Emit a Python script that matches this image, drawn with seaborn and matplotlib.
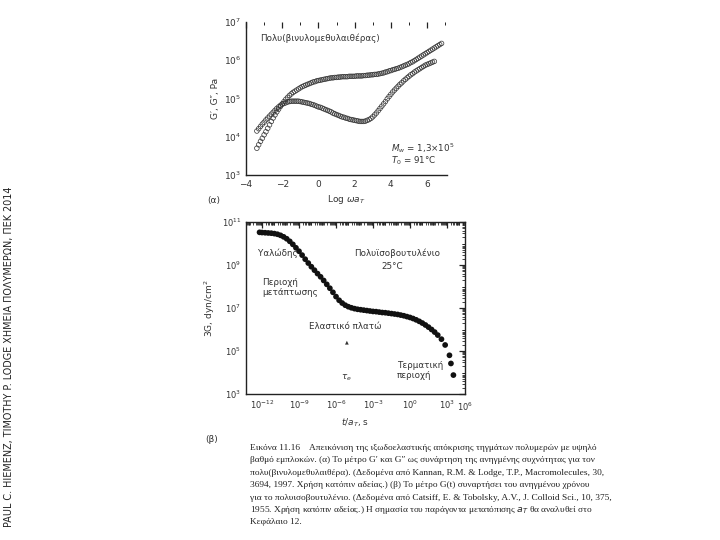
import numpy as np
import pandas as pd
import matplotlib
matplotlib.use("Agg")
import matplotlib.pyplot as plt
import matplotlib.ticker as mticker
import seaborn as sns

# ---------------- data ----------------
# (a) poly(vinyl methyl ether): log(omega a_T) and log10 of G' (Pa)
logw = [-3.4, -3.3, -3.2, -3.1, -3.0, -2.9, -2.8, -2.7, -2.6, -2.5, -2.4, -2.3,
        -2.2, -2.1, -2.0, -1.9, -1.8, -1.7, -1.6, -1.5, -1.4, -1.3, -1.2, -1.1,
        -1.0, -0.9, -0.8, -0.7, -0.6, -0.5, -0.4, -0.3, -0.2, -0.1, 0.0, 0.1,
        0.2, 0.3, 0.4, 0.5, 0.6, 0.7, 0.8, 0.9, 1.0, 1.1, 1.2, 1.3, 1.4, 1.5,
        1.6, 1.7, 1.8, 1.9, 2.0, 2.1, 2.2, 2.3, 2.4, 2.5, 2.6, 2.7, 2.8, 2.9,
        3.0, 3.1, 3.2, 3.3, 3.4, 3.5, 3.6, 3.7, 3.8, 3.9, 4.0, 4.1, 4.2, 4.3,
        4.4, 4.5, 4.6, 4.7, 4.8, 4.9, 5.0, 5.1, 5.2, 5.3, 5.4, 5.5, 5.6, 5.7,
        5.8, 5.9, 6.0, 6.1, 6.2, 6.3, 6.4, 6.5, 6.6, 6.7, 6.8]
logGp = [3.70, 3.79, 3.88, 3.96, 4.05, 4.13, 4.22, 4.31, 4.40, 4.49, 4.57, 4.65,
         4.72, 4.79, 4.86, 4.92, 4.98, 5.03, 5.08, 5.12, 5.16, 5.19, 5.22, 5.25,
         5.28, 5.31, 5.33, 5.35, 5.37, 5.39, 5.41, 5.43, 5.44, 5.46, 5.47, 5.48,
         5.49, 5.50, 5.51, 5.52, 5.53, 5.54, 5.54, 5.55, 5.55, 5.56, 5.56, 5.57, 5.57, 5.57,
         5.57, 5.58, 5.58, 5.58, 5.58, 5.59, 5.59, 5.59, 5.59, 5.60, 5.60, 5.61, 5.61, 5.62,
         5.62, 5.63, 5.63, 5.64, 5.65, 5.66, 5.67, 5.69, 5.70, 5.72, 5.73, 5.75, 5.76, 5.78,
         5.79, 5.81, 5.83, 5.85, 5.87, 5.89, 5.91, 5.94, 5.96, 5.99, 6.02, 6.05, 6.08, 6.11,
         6.14, 6.17, 6.20, 6.23, 6.26, 6.29, 6.32, 6.35, 6.38, 6.41, 6.44]
# log(omega a_T) and log10 of G'' (Pa)
logw2 = [-3.4, -3.3, -3.2, -3.1, -3.0, -2.9, -2.8, -2.7, -2.6, -2.5, -2.4, -2.3,
         -2.2, -2.1, -2.0, -1.9, -1.8, -1.7, -1.6, -1.5, -1.4, -1.3, -1.2, -1.1,
         -1.0, -0.9, -0.8, -0.7, -0.6, -0.5, -0.4, -0.3, -0.2, -0.1, 0.0, 0.1,
         0.2, 0.3, 0.4, 0.5, 0.6, 0.7, 0.8, 0.9, 1.0, 1.1, 1.2, 1.3, 1.4, 1.5,
         1.6, 1.7, 1.8, 1.9, 2.0, 2.1, 2.2, 2.3, 2.4, 2.5, 2.6, 2.7, 2.8, 2.9,
         3.0, 3.1, 3.2, 3.3, 3.4, 3.5, 3.6, 3.7, 3.8, 3.9, 4.0, 4.1, 4.2, 4.3,
         4.4, 4.5, 4.6, 4.7, 4.8, 4.9, 5.0, 5.1, 5.2, 5.3, 5.4, 5.5, 5.6, 5.7,
         5.8, 5.9, 6.0, 6.1, 6.2, 6.3, 6.4]
logGpp = [4.15, 4.21, 4.27, 4.33, 4.38, 4.44, 4.49, 4.54, 4.59, 4.64, 4.69, 4.74,
          4.78, 4.82, 4.85, 4.87, 4.89, 4.91, 4.92, 4.93, 4.93, 4.93, 4.93, 4.93,
          4.92, 4.91, 4.90, 4.89, 4.88, 4.87, 4.85, 4.84, 4.82, 4.80, 4.78, 4.77,
          4.75, 4.73, 4.71, 4.69, 4.67, 4.65, 4.62, 4.60, 4.58, 4.56, 4.54, 4.52, 4.51, 4.49,
          4.48, 4.46, 4.45, 4.44, 4.43, 4.42, 4.41, 4.40, 4.40, 4.40, 4.41, 4.43, 4.45, 4.48,
          4.52, 4.57, 4.62, 4.68, 4.74, 4.80, 4.86, 4.92, 4.99, 5.05, 5.11, 5.17, 5.22, 5.27,
          5.32, 5.37, 5.41, 5.46, 5.50, 5.54, 5.58, 5.62, 5.65, 5.69, 5.72, 5.75, 5.78, 5.81,
          5.84, 5.87, 5.89, 5.91, 5.93, 5.95, 5.97]

# (b) polyisobutylene: log10(t/a_T, s) and log10(3G, dyn/cm^2)
logt = [-12.2, -12.0, -11.75, -11.5, -11.25, -11.0, -10.75, -10.5, -10.25, -10.0,
        -9.75, -9.5, -9.25, -9.0, -8.75, -8.5, -8.25, -8.0, -7.75, -7.5, -7.25,
        -7.0, -6.75, -6.5, -6.25, -6.0, -5.75, -5.5, -5.25, -5.0, -4.75, -4.5,
        -4.25, -4.0, -3.75, -3.5, -3.25, -3.0, -2.75, -2.5, -2.25, -2.0, -1.75,
        -1.5, -1.25, -1.0, -0.75, -0.5, -0.25, 0.0, 0.25, 0.5, 0.75, 1.0, 1.25,
        1.5, 1.75, 2.0, 2.25, 2.55, 2.85, 3.2, 3.32, 3.52]
log3G = [10.52, 10.51, 10.50, 10.49, 10.48, 10.46, 10.43, 10.38, 10.31, 10.22,
         10.10, 9.96, 9.80, 9.64, 9.46, 9.27, 9.09, 8.92, 8.76, 8.60, 8.45,
         8.28, 8.10, 7.92, 7.73, 7.53, 7.36, 7.23, 7.13, 7.06, 7.01, 6.97,
         6.94, 6.92, 6.90, 6.88, 6.86, 6.84, 6.83, 6.81, 6.79, 6.78, 6.76,
         6.74, 6.72, 6.70, 6.67, 6.64, 6.60, 6.56, 6.51, 6.45, 6.38, 6.30, 6.21,
         6.11, 6.00, 5.88, 5.74, 5.55, 5.28, 4.80, 4.42, 3.88]

top_xticks = [-4, -2, 0, 2, 4, 6]
bot_xticks_exp = [-12, -9, -6, -3, 0, 3]
bot_yticks_exp = [3, 5, 7, 9, 11]

caption = [
    "Εικόνα 11.16    Απεικόνιση της ιξωδοελαστικής απόκρισης τηγμάτων πολυμερών με υψηλό",
    "βαθμό εμπλοκών. (α) Το μέτρο G′ και G″ ως συνάρτηση της ανηγμένης συχνότητας για τον",
    "πολυ(βινυλομεθυλαιθέρα). (Δεδομένα από Kannan, R.M. & Lodge, T.P., Macromolecules, 30,",
    "3694, 1997. Χρήση κατόπιν αδείας.) (β) Το μέτρο G(t) συναρτήσει του ανηγμένου χρόνου",
    "για το πολυισοβουτυλένιο. (Δεδομένα από Catsiff, E. & Tobolsky, A.V., J. Colloid Sci., 10, 375,",
    "1955. Χρήση κατόπιν αδείας.) Η σημασία του παράγοντα μετατόπισης $a_T$ θα αναλυθεί στο",
    "Κεφάλαιο 12.",
]

# ---------------- style ----------------
sns.set_style("white")
plt.rcParams['font.family'] = ['DejaVu Sans']
plt.rcParams['mathtext.fontset'] = 'dejavusans'

W, H = 720, 540
fig = plt.figure(figsize=(7.2, 5.4), dpi=100)
fig.patch.set_facecolor("white")

def fx(px):
    return px / W

def fy(py):
    return 1 - py / H

tc = "#333333"

# ---------------- panel (a) ----------------
ax1 = fig.add_axes([fx(246), fy(175), fx(201), 153 / H])
dfa1 = pd.DataFrame({"x": logw, "y": 10 ** np.array(logGp)})
dfa2 = pd.DataFrame({"x": logw2, "y": 10 ** np.array(logGpp)})
for d in (dfa1, dfa2):
    sns.scatterplot(data=d, x="x", y="y", ax=ax1, marker="o", s=11,
                    facecolors="none", edgecolor="#333333", linewidth=0.5)
ax1.set_yscale("log")
ax1.set_xlim(-4, 7.1)
ax1.set_ylim(1e3, 1e7)
ax1.set_xticks(top_xticks)
ax1.xaxis.set_minor_locator(mticker.MultipleLocator(1))
ax1.yaxis.set_major_locator(mticker.LogLocator(base=10, numticks=10))
ax1.yaxis.set_minor_locator(mticker.LogLocator(base=10, subs=np.arange(2, 10), numticks=20))
ax1.yaxis.set_minor_formatter(mticker.NullFormatter())
for s in ("top", "right"):
    ax1.spines[s].set_visible(False)
for s in ("left", "bottom"):
    ax1.spines[s].set_linewidth(1.0)
    ax1.spines[s].set_color("#222222")
ax1.tick_params(axis="both", which="both", direction="in", colors="#222222",
                labelcolor=tc, labelsize=6.5)
ax1.tick_params(axis="x", which="both", top=True)
ax1.tick_params(which="major", length=4, width=0.9)
ax1.tick_params(which="minor", length=2.5, width=0.7)
ax1.set_xlabel(r"Log $\omega a_T$", fontsize=6.5, color=tc, labelpad=3)
ax1.set_ylabel("G′, G″, Pa", fontsize=6.5, color=tc, labelpad=3)
ax1.text(0.37, 0.895, "Πολυ(βινυλομεθυλαιθέρας)", transform=ax1.transAxes,
         ha="center", va="center", fontsize=6.3, color=tc)
ax1.text(0.72, 0.176, r"$M_w$ = 1,3×10$^5$", transform=ax1.transAxes,
         ha="left", va="center", fontsize=6.3, color=tc)
ax1.text(0.72, 0.092, r"$T_0$ = 91°C", transform=ax1.transAxes,
         ha="left", va="center", fontsize=6.3, color=tc)
fig.text(fx(207), fy(200), "(α)", fontsize=6.5, color=tc, va="center")

# ---------------- panel (b) ----------------
ax2 = fig.add_axes([fx(246), fy(394), fx(219), 172 / H])
dfb = pd.DataFrame({"t": 10 ** np.array(logt), "G": 10 ** np.array(log3G)})
sns.scatterplot(data=dfb, x="t", y="G", ax=ax2, marker="o", s=17,
                color="#111111", edgecolor="none", linewidth=0)
ax2.set_xscale("log")
ax2.set_yscale("log")
ax2.set_xlim(10 ** -13.3, 10 ** 4.46)
ax2.set_ylim(1e3, 1e11)
ax2.xaxis.set_major_locator(mticker.FixedLocator([10.0 ** e for e in bot_xticks_exp]))
ax2.xaxis.set_major_formatter(mticker.FixedFormatter(
    [r"$10^{%d}$" % e for e in bot_xticks_exp]))
ax2.xaxis.set_minor_locator(mticker.LogLocator(base=10, subs=np.arange(1, 10), numticks=40))
ax2.xaxis.set_minor_formatter(mticker.NullFormatter())
ax2.yaxis.set_major_locator(mticker.FixedLocator([10.0 ** e for e in bot_yticks_exp]))
ax2.yaxis.set_major_formatter(mticker.FixedFormatter(
    [r"$10^{%d}$" % e for e in bot_yticks_exp]))
ax2.yaxis.set_minor_locator(mticker.LogLocator(base=10, subs=np.arange(1, 10), numticks=40))
ax2.yaxis.set_minor_formatter(mticker.NullFormatter())
for s in ax2.spines.values():
    s.set_linewidth(1.0)
    s.set_color("#222222")
ax2.tick_params(axis="both", which="both", direction="in", top=True, right=True,
                colors="#222222", labelcolor=tc, labelsize=6.0)
ax2.tick_params(which="major", length=4, width=0.9)
ax2.tick_params(which="minor", length=2.2, width=0.6)
ax2.text(1.0, -0.075, r"$10^{6}$", transform=ax2.transAxes, ha="center",
         va="center", fontsize=6.0, color=tc)
ax2.set_xlabel(r"$t/a_T$, s", fontsize=6.5, color=tc, labelpad=4)
ax2.set_ylabel("3G, dyn/cm$^2$", fontsize=6.5, color=tc, labelpad=3)

txt = dict(transform=ax2.transAxes, fontsize=6.3, color=tc, va="center")
ax2.text(0.055, 0.82, "Υαλώδης", ha="left", **txt)
ax2.text(0.69, 0.82, "Πολυϊσοβουτυλένιο", ha="center", **txt)
ax2.text(0.667, 0.74, "25°C", ha="center", **txt)
ax2.text(0.2, 0.62, "Περιοχή\nμετάπτωσης", ha="center", multialignment="left",
         linespacing=1.1, **txt)
ax2.text(0.452, 0.39, "Ελαστικό πλατώ", ha="center", **txt)
ax2.text(0.46, 0.302, "▲", ha="center", transform=ax2.transAxes, fontsize=3.5,
         color=tc, va="center")
ax2.text(0.457, 0.095, r"$\tau_e$", ha="center", **txt)
ax2.text(0.69, 0.135, "Τερματική\nπεριοχή", ha="left", multialignment="left",
         linespacing=1.1, **txt)
fig.text(fx(205), fy(440), "(β)", fontsize=6.5, color=tc, va="center")

# ---------------- caption ----------------
y0 = 448
for i, line in enumerate(caption):
    fig.text(fx(250), fy(y0 + i * 12.4), line, fontsize=6.75, color="#222222",
             family=["Liberation Serif", "DejaVu Serif"], va="center", ha="left")

# ---------------- side credit ----------------
fig.text(fx(9), fy(357), "PAUL C. HIEMENZ, TIMOTHY P. LODGE ΧΗΜΕΙΑ ΠΟΛΥΜΕΡΩΝ, ΠΕΚ 2014",
         rotation=90, fontsize=6.9, color="#222222", ha="center", va="center")

fig.savefig("out.png", dpi=100, facecolor="white")
